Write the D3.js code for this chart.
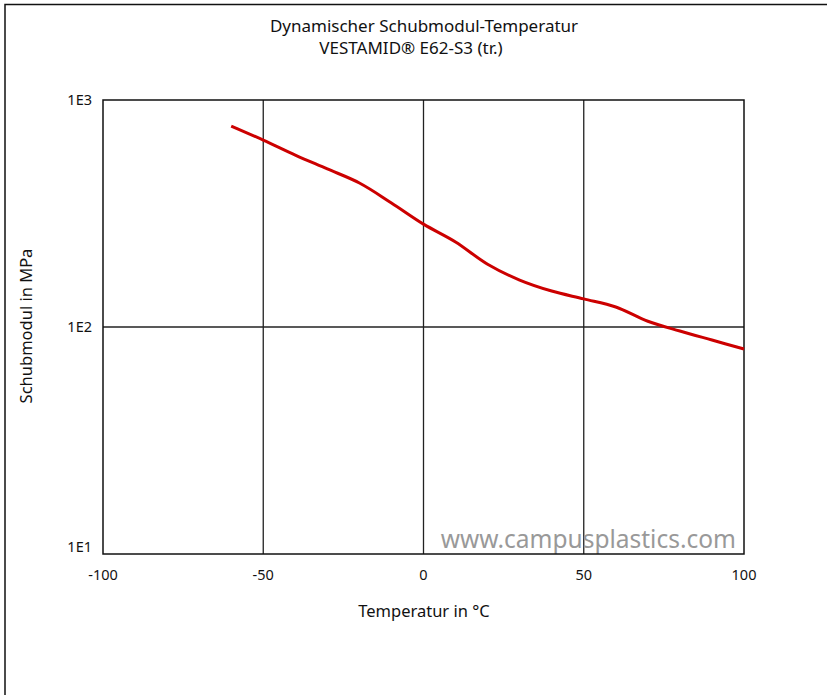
<!DOCTYPE html>
<html lang="de">
<head>
<meta charset="utf-8">
<script src="https://d3js.org/d3.v7.min.js"></script>
<style>
    body { margin: 0; background: #fff; }
    text { font-family: "Noto Sans", "Open Sans", sans-serif; fill: #111; }
</style>
</head>
<body>
<svg width="827" height="695"></svg>
<script>
// Temperatur (°C) und Schubmodul (MPa)
const temps = [-60, -50, -40, -30, -20, -10, 0, 10, 20, 30, 40, 50, 60, 70, 80, 90, 100];
const modulus = [768, 666, 572, 497, 431, 352, 284, 237, 189, 161, 144, 133, 122.5, 106, 96, 87.6, 80];
const xTicks = [-100, -50, 0, 50, 100];
const yTicks = [10, 100, 1000];
const yTickLabels = ['1E1', '1E2', '1E3'];

const svg = d3.select('svg');

// outer frame (right/bottom edges cut off in the picture)
svg.append('path')
    .attr('d', 'M5,700 L5,4.5 L830,4.5')
    .style('fill', 'none')
    .style('stroke', '#111')
    .style('stroke-width', 1.5);

const margin = {top: 100, left: 103, right: 744, bottom: 554};

const x = d3.scaleLinear().domain([-100, 100]).range([margin.left, margin.right]);
const y = d3.scaleLog().domain([10, 1000]).range([margin.bottom, margin.top]);

// grid
svg.append('g').selectAll('line')
    .data(xTicks.slice(1, -1))
    .join('line')
    .attr('x1', d => x(d)).attr('x2', d => x(d))
    .attr('y1', margin.top).attr('y2', margin.bottom)
    .style('stroke', '#222').style('stroke-width', 1.3);

svg.append('g').selectAll('line')
    .data(yTicks.slice(1, -1))
    .join('line')
    .attr('x1', margin.left).attr('x2', margin.right)
    .attr('y1', d => y(d)).attr('y2', d => y(d))
    .style('stroke', '#222').style('stroke-width', 1.3);

// watermark
svg.append('text')
    .attr('x', 736).attr('y', 548)
    .attr('text-anchor', 'end')
    .style('font-size', '24.5px')
    .style('fill', '#999')
    .text('www.campusplastics.com');

// plot frame
svg.append('rect')
    .attr('x', margin.left).attr('y', margin.top)
    .attr('width', margin.right - margin.left)
    .attr('height', margin.bottom - margin.top)
    .style('fill', 'none').style('stroke', '#111').style('stroke-width', 1.5);

// curve
const line = d3.line()
    .x((d, i) => x(temps[i]))
    .y(d => y(d))
    .curve(d3.curveCatmullRom);

svg.append('path')
    .datum(modulus)
    .attr('d', line)
    .style('fill', 'none')
    .style('stroke', '#cc0000')
    .style('stroke-width', 3);

// tick labels
svg.append('g').selectAll('text')
    .data(xTicks)
    .join('text')
    .attr('x', d => x(d))
    .attr('y', margin.bottom + 26)
    .attr('text-anchor', 'middle')
    .style('font-size', '14.5px')
    .text(d => d);

svg.append('g').selectAll('text')
    .data(yTicks)
    .join('text')
    .attr('x', margin.left - 11)
    .attr('y', (d, i) => y(d) + (i === 0 ? -2 : 5))
    .attr('text-anchor', 'end')
    .style('font-size', '14.5px')
    .text((d, i) => yTickLabels[i]);

// titles
svg.append('text')
    .attr('x', 424).attr('y', 32)
    .attr('text-anchor', 'middle')
    .style('font-size', '17px')
    .text('Dynamischer Schubmodul-Temperatur');

svg.append('text')
    .attr('x', 411).attr('y', 54)
    .attr('text-anchor', 'middle')
    .style('font-size', '17px')
    .text('VESTAMID® E62-S3 (tr.)');

svg.append('text')
    .attr('x', 424).attr('y', 617)
    .attr('text-anchor', 'middle')
    .style('font-size', '16.5px')
    .text('Temperatur in °C');

svg.append('text')
    .attr('transform', 'translate(32,326) rotate(-90)')
    .attr('text-anchor', 'middle')
    .style('font-size', '16.5px')
    .text('Schubmodul in MPa');
</script>
</body>
</html>
